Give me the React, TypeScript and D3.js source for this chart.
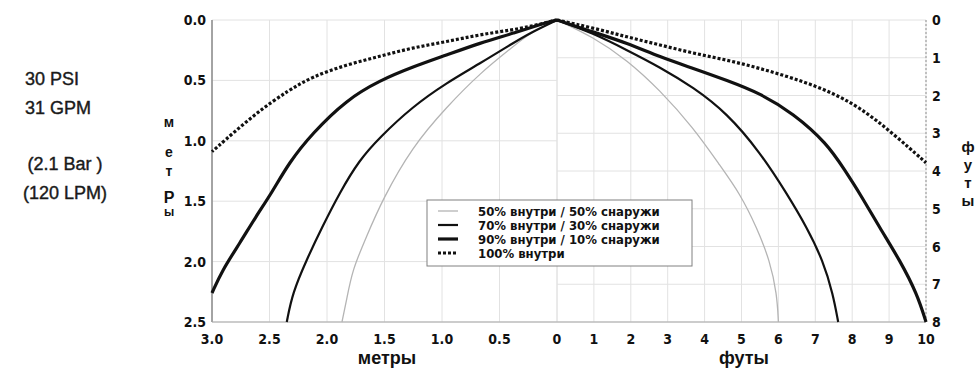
import { useRef, useEffect } from "react";
import * as d3 from "d3";

type Pt = [number, number];

// bottom axis: metres on the left half, feet on the right half
const meterTicks = [3.0, 2.5, 2.0, 1.5, 1.0, 0.5];
const footTicks = [0, 1, 2, 3, 4, 5, 6, 7, 8, 9, 10];
const depthMeterTicks = [0, 0.5, 1.0, 1.5, 2.0, 2.5];
const depthFootTicks = [0, 1, 2, 3, 4, 5, 6, 7, 8];

// [distance, depth] in metres (left half)
const left50: Pt[] = [
  [0, 0], [0.24, 0.11], [0.38, 0.22], [0.67, 0.44], [0.96, 0.72], [1.26, 1.05],
  [1.52, 1.49], [1.66, 1.8], [1.78, 2.07], [1.83, 2.32], [1.87, 2.5],
];
const left70: Pt[] = [
  [0, 0], [0.24, 0.11], [0.38, 0.19], [0.67, 0.36], [0.96, 0.52], [1.26, 0.72],
  [1.54, 0.97], [1.72, 1.16], [1.89, 1.43], [2.04, 1.71], [2.18, 1.99], [2.3, 2.26], [2.35, 2.5],
];
const left90: Pt[] = [
  [0, 0], [0.09, 0.02], [0.38, 0.11], [0.67, 0.19], [0.96, 0.29], [1.26, 0.39],
  [1.54, 0.5], [1.83, 0.66], [2.13, 0.94], [2.33, 1.18], [2.48, 1.43], [2.62, 1.63],
  [2.76, 1.85], [2.91, 2.07], [3.0, 2.26],
];
const left100: Pt[] = [
  [0, 0], [0.09, 0.02], [0.3, 0.07], [0.67, 0.12], [0.96, 0.18], [1.26, 0.23],
  [1.54, 0.3], [1.83, 0.37], [2.13, 0.47], [2.33, 0.58], [2.62, 0.77], [3.0, 1.09],
];

// [distance, depth] in feet (right half)
const right50: Pt[] = [
  [0, 0], [0.98, 0.45], [1.9, 1.06], [2.79, 1.86], [3.69, 2.85], [4.42, 3.86],
  [4.96, 4.6], [5.42, 5.51], [5.77, 6.38], [5.96, 7.26], [6.0, 8.0],
];
const right70: Pt[] = [
  [0, 0], [0.98, 0.35], [1.9, 0.8], [2.79, 1.25], [3.69, 1.78], [4.61, 2.47],
  [5.5, 3.5], [6.23, 4.6], [6.78, 5.51], [7.21, 6.38], [7.48, 7.26], [7.62, 8.0],
];
const right90: Pt[] = [
  [0, 0], [0.98, 0.32], [1.9, 0.61], [2.79, 0.98], [3.69, 1.28], [4.61, 1.6],
  [5.5, 1.94], [6.4, 2.47], [7.32, 3.27], [7.8, 3.98], [8.21, 4.6], [8.75, 5.51],
  [9.3, 6.38], [9.76, 7.26], [10.0, 8.0],
];
const right100: Pt[] = [
  [0, 0], [0.98, 0.21], [1.9, 0.45], [2.79, 0.66], [3.69, 0.88], [4.61, 1.06],
  [5.5, 1.28], [6.4, 1.54], [7.32, 1.86], [8.21, 2.31], [9.11, 3.01], [10.0, 3.78],
];

const legendLabels = [
  "50% внутри / 50% снаружи",
  "70% внутри / 30% снаружи",
  "90% внутри / 10% снаружи",
  "100% внутри",
];
const infoLines = ["30 PSI", "31 GPM", "(2.1 Bar )", "(120 LPM)"];

const series = [
  { left: left50, right: right50, color: "#b4b4b4", width: 1.3, dash: null },
  { left: left70, right: right70, color: "#111", width: 2.2, dash: null },
  { left: left90, right: right90, color: "#111", width: 3.2, dash: null },
  { left: left100, right: right100, color: "#111", width: 3.2, dash: "3,2" },
];

const BOLD = "'Liberation Sans Narrow', 'DejaVu Sans Condensed', 'Liberation Sans', sans-serif";
const SANS = "'Liberation Sans', Arial, sans-serif";

export default function App() {
  const svgRef = useRef<SVGSVGElement | null>(null);

  useEffect(() => {
    const svg = d3.select(svgRef.current);
    svg.selectAll("*").remove();

    const x0 = 212, xc = 557, x1 = 926, top = 20, bottom = 322;

    const xM = d3.scaleLinear().domain([3, 0]).range([x0, xc]);
    const xF = d3.scaleLinear().domain([0, 10]).range([xc, x1]);
    const yM = d3.scaleLinear().domain([0, 2.5]).range([top, bottom]);
    const yF = d3.scaleLinear().domain([0, 8]).range([top, bottom]);

    const grid = svg.append("g").attr("stroke", "#e2e2e2").attr("stroke-width", 1);
    // left-half grid (metres)
    [...meterTicks, 0].forEach((t) =>
      grid.append("line").attr("x1", xM(t)).attr("x2", xM(t)).attr("y1", top).attr("y2", bottom)
    );
    depthMeterTicks.forEach((t) =>
      grid.append("line").attr("x1", x0).attr("x2", xc).attr("y1", yM(t)).attr("y2", yM(t))
    );
    // right-half grid (feet)
    footTicks.forEach((t) =>
      grid.append("line").attr("x1", xF(t)).attr("x2", xF(t)).attr("y1", top).attr("y2", bottom)
    );
    depthFootTicks.forEach((t) =>
      grid.append("line").attr("x1", xc).attr("x2", x1).attr("y1", yF(t)).attr("y2", yF(t))
    );

    // axis lines
    svg.append("line").attr("x1", x0).attr("x2", x0).attr("y1", top).attr("y2", bottom)
      .attr("stroke", "#8a8a8a").attr("stroke-width", 1.5);
    svg.append("line").attr("x1", x1).attr("x2", x1).attr("y1", top).attr("y2", bottom)
      .attr("stroke", "#a0a0a0").attr("stroke-width", 1.2).attr("stroke-dasharray", "2,2");
    svg.append("line").attr("x1", x0).attr("x2", x1).attr("y1", bottom).attr("y2", bottom)
      .attr("stroke", "#a8a8a8").attr("stroke-width", 1.2);

    // curves
    const lineM = d3.line<Pt>().x((d) => xM(d[0])).y((d) => yM(d[1])).curve(d3.curveBasis);
    const lineF = d3.line<Pt>().x((d) => xF(d[0])).y((d) => yF(d[1])).curve(d3.curveBasis);
    series.forEach((s) => {
      [lineM(s.left), lineF(s.right)].forEach((d) => {
        const p = svg.append("path").attr("d", d).attr("fill", "none")
          .attr("stroke", s.color).attr("stroke-width", s.width);
        if (s.dash) p.attr("stroke-dasharray", s.dash);
      });
    });

    // tick labels
    const tick = (x: number, y: number, t: string, anchor: string) =>
      svg.append("text").attr("x", x).attr("y", y).attr("text-anchor", anchor)
        .attr("font-family", BOLD).attr("font-weight", "bold").attr("font-size", 14)
        .attr("fill", "#111").text(t);

    depthMeterTicks.forEach((t) => tick(x0 - 6, yM(t) + 5, t.toFixed(1), "end"));
    depthFootTicks.forEach((t) => tick(x1 + 6, yF(t) + 5, String(t), "start"));
    meterTicks.forEach((t) => tick(xM(t), 344, t.toFixed(1), "middle"));
    footTicks.forEach((t) => tick(xF(t), 344, String(t), "middle"));

    // axis titles
    svg.append("text").attr("x", 387).attr("y", 364).attr("text-anchor", "middle")
      .attr("font-family", SANS).attr("font-weight", "bold").attr("font-size", 18)
      .attr("fill", "#111").text("метры");
    svg.append("text").attr("x", 744).attr("y", 364).attr("text-anchor", "middle")
      .attr("font-family", SANS).attr("font-weight", "bold").attr("font-size", 18)
      .attr("fill", "#111").text("футы");

    const leftLetters: [string, number, number][] = [
      ["м", 127, 14], ["е", 157, 14], ["т", 176, 14], ["Р", 203, 16], ["ы", 216, 12],
    ];
    leftLetters.forEach(([ch, y, fs]) =>
      svg.append("text").attr("x", 169).attr("y", y).attr("text-anchor", "middle")
        .attr("font-family", SANS).attr("font-weight", "bold").attr("font-size", fs)
        .attr("fill", "#111").text(ch)
    );
    ["ф", "у", "т", "ы"].forEach((ch, i) =>
      svg.append("text").attr("x", 968).attr("y", 152 + i * 18).attr("text-anchor", "middle")
        .attr("font-family", SANS).attr("font-weight", "bold").attr("font-size", 15)
        .attr("fill", "#111").text(ch)
    );

    // pressure / flow notes
    const noteX = [25, 25, 65, 65];
    const noteAnchor = ["start", "start", "middle", "middle"];
    [85, 114, 170, 199].forEach((y, i) =>
      svg.append("text").attr("x", noteX[i]).attr("y", y).attr("text-anchor", noteAnchor[i])
        .attr("font-family", SANS).attr("font-size", 18).attr("fill", "#1a1a1a")
        .attr("stroke", "#1a1a1a").attr("stroke-width", 0.4)
        .text(infoLines[i])
    );

    // legend
    const lg = svg.append("g");
    lg.append("rect").attr("x", 427).attr("y", 200).attr("width", 265).attr("height", 66)
      .attr("fill", "#fff").attr("stroke", "#808080").attr("stroke-width", 1);
    series.forEach((s, i) => {
      const y = 211 + i * 14;
      const l = lg.append("line").attr("x1", 438).attr("x2", 458).attr("y1", y).attr("y2", y)
        .attr("stroke", s.color).attr("stroke-width", s.width);
      if (s.dash) l.attr("stroke-dasharray", s.dash);
      lg.append("text").attr("x", 478).attr("y", y + 4.5)
        .attr("font-family", BOLD).attr("font-weight", "bold").attr("font-size", 13)
        .attr("fill", "#111").text(legendLabels[i]);
    });
  }, []);

  return (
    <div style={{ position: "absolute", top: 0, left: 0, width: 980, height: 371, background: "#fff" }}>
      <svg ref={svgRef} width={980} height={371} />
    </div>
  );
}
